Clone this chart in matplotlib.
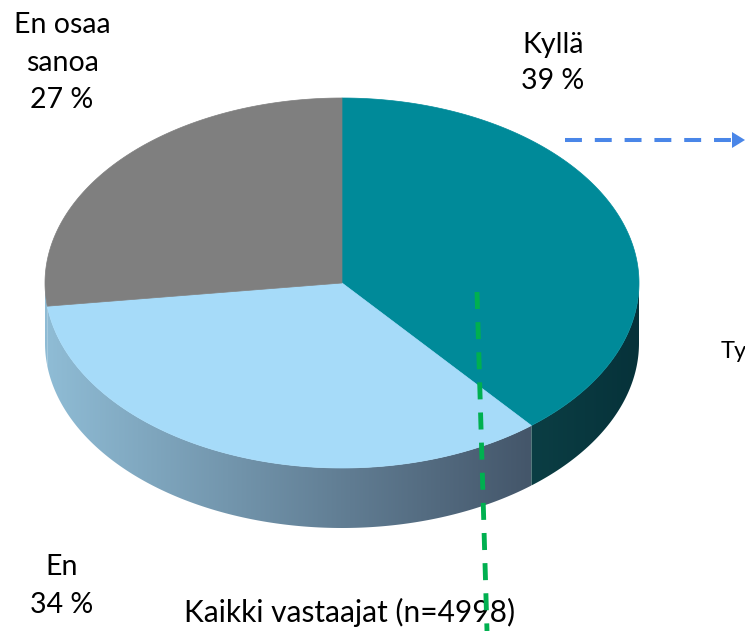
import numpy as np
import matplotlib.pyplot as plt
from matplotlib.patches import Polygon
from matplotlib.colors import LinearSegmentedColormap

# Vastausjakauma
labels = ["Kyllä", "En", "En osaa\nsanoa"]
values = [39, 34, 27]
top_colors = ["#008A99", "#A6DBF9", "#7F7F7F"]
side_colors = [("#0B3E44", "#06323A"), ("#8FBCD5", "#44566A"), ("#8FBCD5", "#8FBCD5")]
title = "Kaikki vastaajat (n=4998)"

plt.rcParams['font.family'] = ['Lato', 'DejaVu Sans']

fig = plt.figure(figsize=(7.45, 6.31), dpi=100)
ax = fig.add_axes([0, 0, 1, 1])
ax.set_xlim(0, 745)
ax.set_ylim(631, 0)
ax.axis('off')

# geometria (pikseleinä)
cx, cy, rx, ry, depth = 342, 283, 297, 185, 60


def edge(t):
    return cx + rx * np.sin(t), cy - ry * np.cos(t)


fracs = np.array(values) / sum(values)
bounds = np.concatenate([[0], np.cumsum(fracs)]) * 2 * np.pi

# sivupinnat
for i in range(len(values)):
    t0, t1 = max(bounds[i], np.pi / 2), min(bounds[i + 1], 3 * np.pi / 2)
    if t1 <= t0:
        continue
    t = np.linspace(t0, t1, 200)
    x, y = edge(t)
    pts = np.concatenate([np.column_stack([x, y]),
                          np.column_stack([x[::-1], y[::-1] + depth])])
    poly = Polygon(pts, closed=True, facecolor='none', edgecolor='none')
    ax.add_patch(poly)
    cmap = LinearSegmentedColormap.from_list("s%d" % i, side_colors[i])
    grad = np.linspace(0, 1, 256).reshape(1, -1)
    im = ax.imshow(grad, cmap=cmap, aspect='auto',
                   extent=[x.min(), x.max(), y.max() + depth, y.min()], zorder=2)
    im.set_clip_path(poly)

# yläpinnat
for i in range(len(values)):
    t = np.linspace(bounds[i], bounds[i + 1], 300)
    x, y = edge(t)
    pts = np.vstack([[cx, cy], np.column_stack([x, y])])
    ax.add_patch(Polygon(pts, closed=True, facecolor=top_colors[i],
                         edgecolor=top_colors[i], linewidth=0.5, zorder=3))

# otsikot
fs = 20.5
for txt, yy in [("Kyllä", 45), ("39 %", 81)]:
    ax.text(553, yy, txt, ha='center', va='center', fontsize=fs)
for txt, yy in [("En osaa", 25), ("sanoa", 63), ("27 %", 100)]:
    ax.text(62, yy, txt, ha='center', va='center', fontsize=fs)
for txt, yy in [("En", 567), ("34 %", 605)]:
    ax.text(62, yy, txt, ha='center', va='center', fontsize=fs)
ax.text(350, 612, title, ha='center', va='center', fontsize=21.5)
# leikkautuu reunaan kuten alkuperäisessä
ax.text(721, 352, "Ty", ha='left', va='center', fontsize=17)

# nuoli ja katkoviiva
ax.plot([565, 735], [140, 140], color='#4A86E8', lw=2.9, dashes=(4.2, 3.2), zorder=5)
ax.add_patch(Polygon([[732, 132], [745, 140], [732, 148]], closed=True,
                     facecolor='#4A86E8', edgecolor='none', zorder=5))
ax.plot([477, 487], [292, 631], color='#00B050', lw=3.5, dashes=(3.5, 2.7), zorder=5)

plt.savefig("out.png", dpi=100)
